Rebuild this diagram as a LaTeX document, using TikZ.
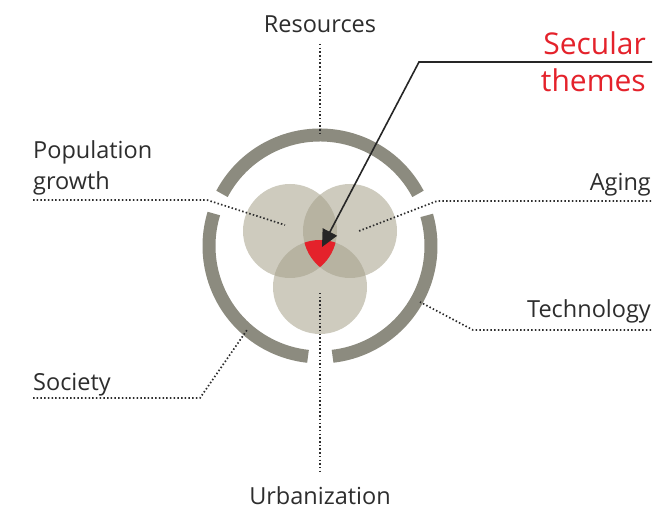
\documentclass[tikz,border=0pt]{standalone}
\usepackage{fontspec}
\setmainfont{Open Sans}
\usetikzlibrary{arrows.meta}

\definecolor{ringgray}{RGB}{140,139,127}
\definecolor{discgray}{RGB}{165,160,137}
\definecolor{themered}{RGB}{228,34,43}
\definecolor{labelgray}{RGB}{45,45,45}

\tikzset{
  label/.style={inner sep=0pt, text=labelgray, font=\fontsize{23.5}{31}\selectfont},
  dotline/.style={labelgray, line width=1.7pt, dash pattern=on 1.5pt off 2.2pt},
  ringarc/.style={ringgray, line width=13pt},
  disc/.style={fill=discgray, fill opacity=0.55},
}

\begin{document}
\begin{tikzpicture}[x=1pt,y=1pt,yscale=-1,xscale=1]
\useasboundingbox (0,0) rectangle (653,510);

%centre of the ring and of the three discs
\coordinate (o) at (320,246);
\coordinate (cL) at (290,231);
\coordinate (cR) at (350,231);
\coordinate (cB) at (320,287);

%Discs
\fill[disc] (cL) circle (47);
\fill[disc] (cR) circle (47);
\fill[disc] (cB) circle (47);
%Red overlap of all three
\begin{scope}
  \clip (cL) circle (47);
  \clip (cR) circle (47);
  \fill[themered] (cB) circle (47);
\end{scope}

%Ring in three pieces
\draw[ringarc] (o) ++(-28:111) arc[start angle=-28, end angle=-152, radius=111];
\draw[ringarc] (o) ++(-16:111) arc[start angle=-16, end angle=83.5, radius=111];
\draw[ringarc] (o) ++(-163:111) arc[start angle=-163, end angle=-263.8, radius=111];

%Text Nodes (base of a two-line node = its last line)
\node[label, anchor=base] (res) at (320,33) {Resources};
\node[label, anchor=base west, align=left] (pop) at (33,190) {Population\\growth};
\node[label, anchor=base east] (aging) at (651,191) {Aging};
\node[label, anchor=base east] (tech) at (651,318) {Technology};
\node[label, anchor=base west] (soc) at (33,390) {Society};
\node[label, anchor=base] (urb) at (320,504) {Urbanization};
\node[label, anchor=base east, align=right, text=themered,
      font=\fontsize{30}{37}\selectfont] (secular) at (646,92) {Secular\\themes};

%Dotted leaders
\coordinate (resA) at (320,44);   \coordinate (resB) at (320,136);
\coordinate (popA) at (33,200);   \coordinate (popB) at (207,200);  \coordinate (popC) at (285,225);
\coordinate (agiA) at (651,201);  \coordinate (agiB) at (437,201);  \coordinate (agiC) at (359,231);
\coordinate (tecA) at (651,330);  \coordinate (tecB) at (473,330);  \coordinate (tecC) at (420,302);
\coordinate (socA) at (33,398);   \coordinate (socB) at (200,398);  \coordinate (socC) at (247,330);
\coordinate (urbA) at (320,293);  \coordinate (urbB) at (320,472);

\draw[dotline] (resA) -- (resB);
\draw[dotline] (popA) -- (popB) -- (popC);
\draw[dotline] (agiA) -- (agiB) -- (agiC);
\draw[dotline] (tecA) -- (tecB) -- (tecC);
\draw[dotline] (socA) -- (socB) -- (socC);
\draw[dotline] (urbA) -- (urbB);

%Pointer from the red label into the overlap
\coordinate (secR) at (652,62);
\coordinate (secL) at (419,62);
\coordinate (tip) at (322,247);
\draw[line width=1.6pt, black!85, -{Triangle[length=17pt,width=16pt]}] (secR) -- (secL) -- (tip);

\end{tikzpicture}
\end{document}
